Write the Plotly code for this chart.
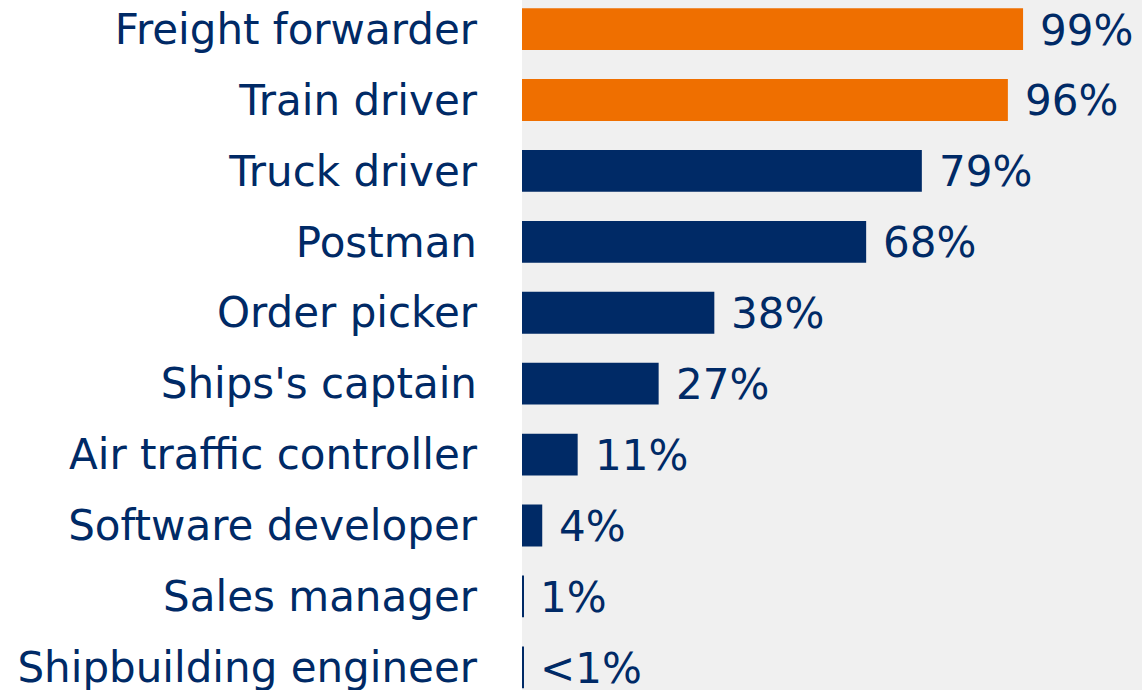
import plotly.graph_objects as go

categories = ["Freight forwarder", "Train driver", "Truck driver", "Postman", "Order picker",
              "Ships's captain", "Air traffic controller", "Software developer",
              "Sales manager", "Shipbuilding engineer"]
values = [99, 96, 79, 68, 38, 27, 11, 4, 0.25, 0.2]
labels = ["99%", "96%", "79%", "68%", "38%", "27%", "11%", "4%", "1%", "<1%"]
highlight = [True, True, False, False, False, False, False, False, False, False]

ORANGE = "#EF6F00"
NAVY = "#002A66"
FONT = "DejaVu Sans"
SIZE = 42
colors = [ORANGE if h else NAVY for h in highlight]

fig = go.Figure()
fig.add_trace(go.Bar(
    y=categories, x=values, orientation="h",
    marker=dict(color=colors, line=dict(width=0)),
    width=0.59, hoverinfo="skip",
))
for c, v, t in zip(categories, values, labels):
    fig.add_annotation(x=v, y=c, text=t, showarrow=False, xanchor="left", yanchor="middle",
                       xshift=15, yshift=-1, font=dict(family=FONT, size=SIZE, color=NAVY))

fig.update_layout(
    width=1142, height=690,
    margin=dict(l=522, r=0, t=0, b=0),
    paper_bgcolor="white", plot_bgcolor="#F0F0F0",
    showlegend=False,
    font=dict(family=FONT, size=SIZE, color=NAVY),
)
fig.update_xaxes(range=[0, 122.5], showgrid=False, zeroline=False, showticklabels=False,
                 ticks="", automargin=False)
fig.update_yaxes(autorange=False, range=[9.32, -0.41], showgrid=False, ticks="",
                 automargin=False, ticklabelstandoff=44,
                 tickfont=dict(family=FONT, size=SIZE, color=NAVY))

fig.write_html("out.html", config={"displayModeBar": False},
               post_script="document.body.style.margin='0px';document.body.style.overflow='hidden';")
